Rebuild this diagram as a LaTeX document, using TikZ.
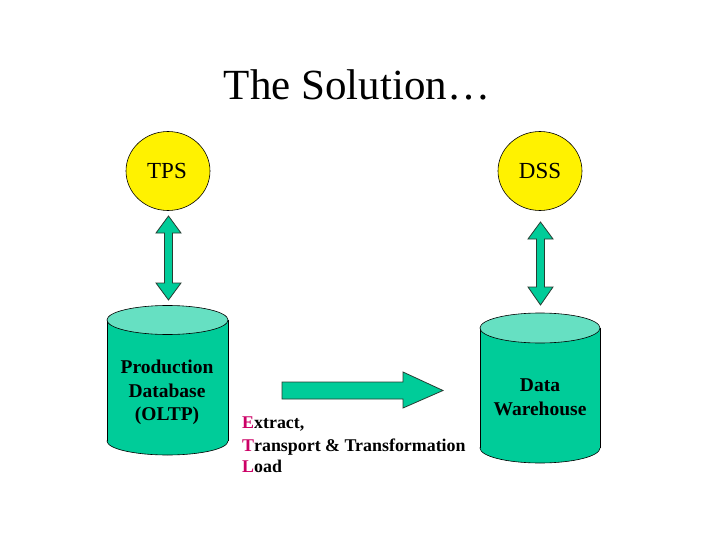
\documentclass[tikz,border=0pt]{standalone}
\usepackage{fontspec}
\setmainfont{Liberation Serif}
\definecolor{teal1}{RGB}{0,204,153}
\definecolor{tealtop}{RGB}{102,224,194}
\definecolor{etlred}{RGB}{204,0,102}
\definecolor{edgec}{RGB}{40,60,50}
\begin{document}
\begin{tikzpicture}[x=1pt,y=-1pt,
  bubble/.style={ellipse,draw=black,fill=yellow,line width=0.6pt,minimum width=84pt,minimum height=79pt,inner sep=0pt},
  arrowshape/.style={fill=teal1,draw=edgec,line width=0.8pt,line join=miter},
  cylbody/.style={fill=teal1},
  cyledge/.style={draw=black,line width=0.6pt},
  lbl/.style={font=\fontsize{19.5}{23}\selectfont\bfseries,inner sep=0pt,anchor=base},
  etl/.style={font=\fontsize{17.9}{21}\selectfont\bfseries,inner sep=0pt,anchor=base west}
]
\usetikzlibrary{shapes.geometric}
\useasboundingbox (0,0) rectangle (720,540);
\fill[white] (0,0) rectangle (720,540);

% title
\node[inner sep=0pt,anchor=base,font=\fontsize{43}{50}\selectfont] (title) at (357,100) {The Solution\ldots};

% bubbles
\node[bubble] (tps) at (168,171) {};
\node[bubble] (dss) at (540,171) {};
\node[inner sep=0pt,anchor=base,font=\fontsize{23}{28}\selectfont] (tpst) at (167,179) {TPS};
\node[inner sep=0pt,anchor=base,font=\fontsize{23}{28}\selectfont] (dsst) at (540,179) {DSS};

% vertical double arrows
\draw[arrowshape] (168.5,216) -- (181,233) -- (172.5,233) -- (172.5,283) -- (181,283) -- (168.5,300)
  -- (156,283) -- (164.5,283) -- (164.5,233) -- (156,233) -- cycle;
\draw[arrowshape] (540.5,222) -- (553,239) -- (544.5,239) -- (544.5,287) -- (553,287) -- (540.5,305)
  -- (528,287) -- (536.5,287) -- (536.5,239) -- (528,239) -- cycle;

% cylinder 1
\path[cylbody,cyledge] (167.5,441) ellipse [x radius=60.5pt, y radius=14pt];
\fill[teal1] (107,320) rectangle (228,441);
\draw[cyledge] (107,320) -- (107,441) (228,320) -- (228,441);
\path[fill=tealtop,cyledge] (167.5,320) ellipse [x radius=60.5pt, y radius=14.5pt];
\node[lbl] (prod1) at (167,373) {Production};
\node[lbl] (prod2) at (167,397) {Database};
\node[lbl] (prod3) at (167,420) {(OLTP)};

% cylinder 2
\path[cylbody,cyledge] (540,448) ellipse [x radius=60pt, y radius=15pt];
\fill[teal1] (480,328) rectangle (600,448);
\draw[cyledge] (480,328) -- (480,448) (600,328) -- (600,448);
\path[fill=tealtop,cyledge] (540,328) ellipse [x radius=60pt, y radius=15pt];
\node[lbl] (dw1) at (540,391) {Data};
\node[lbl] (dw2) at (540,415) {Warehouse};

% right arrow
\draw[arrowshape] (282,382) -- (403,382) -- (403,372) -- (443,390.5) -- (403,408) -- (403,399) -- (282,399) -- cycle;

% ETL text
\node[etl] (etl1) at (242,428) {\textcolor{etlred}{E}xtract,};
\node[etl] (etl2) at (242,451) {\textcolor{etlred}{T}ransport \& Transformation};
\node[etl] (etl3) at (242,472) {\textcolor{etlred}{L}oad};
\end{tikzpicture}
\end{document}
